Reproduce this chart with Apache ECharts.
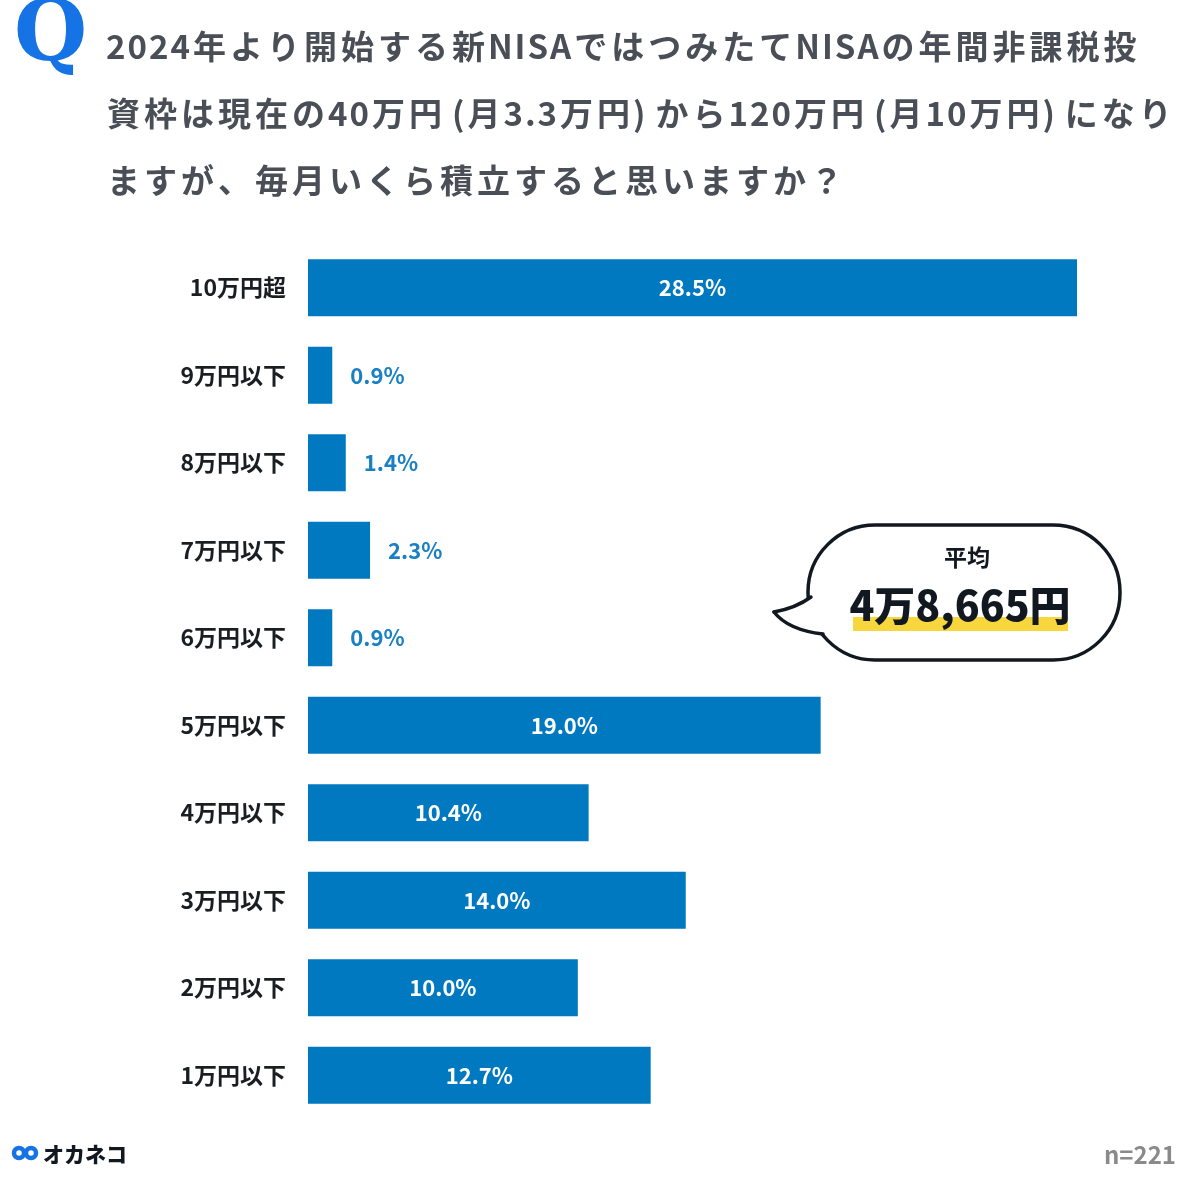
<!DOCTYPE html>
<html>
<head>
<meta charset="utf-8">
<script src="https://cdn.jsdelivr.net/npm/echarts@6/dist/echarts.min.js"></script>
<style>
  html, body { margin: 0; padding: 0; background: #fff; }
  #chart { width: 1200px; height: 1180px; }
</style>
</head>
<body>
<div id="chart"></div>
<script>
// 回答カテゴリ（上から順）
var categories = ['10万円超', '9万円以下', '8万円以下', '7万円以下', '6万円以下',
                  '5万円以下', '4万円以下', '3万円以下', '2万円以下', '1万円以下'];
var shares = [28.5, 0.9, 1.4, 2.3, 0.9, 19.0, 10.4, 14.0, 10.0, 12.7];

var titleLines = [
  '2024年より開始する新NISAではつみたてNISAの年間非課税投',
  '資枠は現在の40万円(月3.3万円)から120万円(月10万円)になり',
  'ますが、毎月いくら積立すると思いますか？'
];
var averageLabel = '平均';
var averageValue = '4万8,665円';
var sampleSize = 'n=221';
var brand = 'オカネコ';

var FONT = '"Noto Sans CJK JP", "Noto Sans", sans-serif';
var BAR = '#0079c1';
var INK = '#111820';
var TITLE_FONT = 'bold 33px ' + FONT;
var TITLE_COLOR = '#4a4f57';

var chart = echarts.init(document.getElementById('chart'));

// 小さい値はバーの外側に青文字で表示
var barData = shares.map(function (v) {
  var inside = v >= 5;
  return {
    value: v,
    label: inside
      ? { position: 'inside', color: '#fff' }
      : { position: 'right', distance: 18, color: '#1a80c4' }
  };
});

// 字間調整: 和文は少し広め、英数字は詰め気味、括弧は外側に余白
function spaced(line) {
  return line.split('').map(function (c) {
    if (c === '(') return '{po|' + c + '}';
    if (c === ')') return '{pc|' + c + '}';
    if (/[\x20-\x7e]/.test(c)) return '{a|' + c + '}';
    return '{c|' + c + '}';
  }).join('');
}

var graphics = [];

// Q マーク
graphics.push({
  type: 'text', x: 14, y: -4,
  style: { text: 'Q', font: 'bold 84px "DejaVu Serif", serif', fill: '#1673e6' }
});

titleLines.forEach(function (t, i) {
  graphics.push({
    type: 'text', x: 105, y: 46 + i * 67,
    style: {
      text: spaced(t),
      verticalAlign: 'middle',
      rich: {
        c: { font: TITLE_FONT, fill: TITLE_COLOR, padding: [0, 2, 0, 2] },
        a: { font: TITLE_FONT, fill: TITLE_COLOR, padding: [0, 1, 0, 1] },
        po: { font: TITLE_FONT, fill: TITLE_COLOR, padding: [0, 1, 0, 8] },
        pc: { font: TITLE_FONT, fill: TITLE_COLOR, padding: [0, 8, 0, 1] }
      }
    }
  });
});

// 吹き出し
graphics.push({
  type: 'rect',
  shape: { x: 808, y: 525, width: 312, height: 135, r: 67 },
  style: { fill: '#fff', stroke: INK, lineWidth: 3.5 }
});
graphics.push({
  type: 'polygon',
  shape: { points: [[812, 597], [792, 606], [774, 612], [790, 624], [824, 634]] },
  style: { fill: '#fff' }
});
graphics.push({
  type: 'bezierCurve',
  shape: { x1: 811, y1: 597, x2: 774, y2: 612, cpx1: 796, cpy1: 608 },
  style: { fill: 'none', stroke: INK, lineWidth: 3.5, lineCap: 'round' }
});
graphics.push({
  type: 'bezierCurve',
  shape: { x1: 774, y1: 612, x2: 823, y2: 634, cpx1: 788, cpy1: 630 },
  style: { fill: 'none', stroke: INK, lineWidth: 3.5, lineCap: 'round' }
});
graphics.push({
  type: 'rect',
  shape: { x: 853, y: 617, width: 215, height: 14 },
  style: { fill: '#f8d73e' }
});
graphics.push({
  type: 'text', x: 967, y: 557,
  style: { text: averageLabel, font: 'bold 23px ' + FONT, fill: INK, align: 'center', verticalAlign: 'middle' }
});
graphics.push({
  type: 'text', x: 960, y: 605,
  style: { text: averageValue, font: '900 41px ' + FONT, fill: INK, align: 'center', verticalAlign: 'middle' }
});

// ロゴ
graphics.push({ type: 'circle', shape: { cx: 19, cy: 1153, r: 5 }, style: { fill: 'none', stroke: '#1673e6', lineWidth: 4.5 } });
graphics.push({ type: 'circle', shape: { cx: 31, cy: 1153, r: 5 }, style: { fill: 'none', stroke: '#1673e6', lineWidth: 4.5 } });
graphics.push({
  type: 'text', x: 43, y: 1154,
  style: { text: brand, font: '900 21px ' + FONT, fill: INK, verticalAlign: 'middle' }
});

graphics.push({
  type: 'text', x: 1176, y: 1155,
  style: { text: sampleSize, font: 'bold 24px ' + FONT, fill: '#8a8a8a', align: 'right', verticalAlign: 'middle' }
});

var option = {
  backgroundColor: '#fff',
  animation: false,
  grid: { left: 308, right: 123, top: 244, height: 875 },
  xAxis: {
    type: 'value', min: 0, max: 28.5, show: false
  },
  yAxis: {
    type: 'category',
    data: categories,
    inverse: true,
    axisLine: { show: false },
    axisTick: { show: false },
    axisLabel: {
      margin: 22,
      fontFamily: FONT,
      fontSize: 23,
      fontWeight: 'bold',
      color: '#1a1d22'
    }
  },
  series: [{
    type: 'bar',
    data: barData,
    barWidth: 57,
    itemStyle: { color: BAR },
    label: {
      show: true,
      fontFamily: FONT,
      fontSize: 22,
      fontWeight: 'bold',
      formatter: function (p) { return p.value.toFixed(1) + '%'; }
    }
  }],
  graphic: graphics
};

chart.setOption(option);
</script>
</body>
</html>
